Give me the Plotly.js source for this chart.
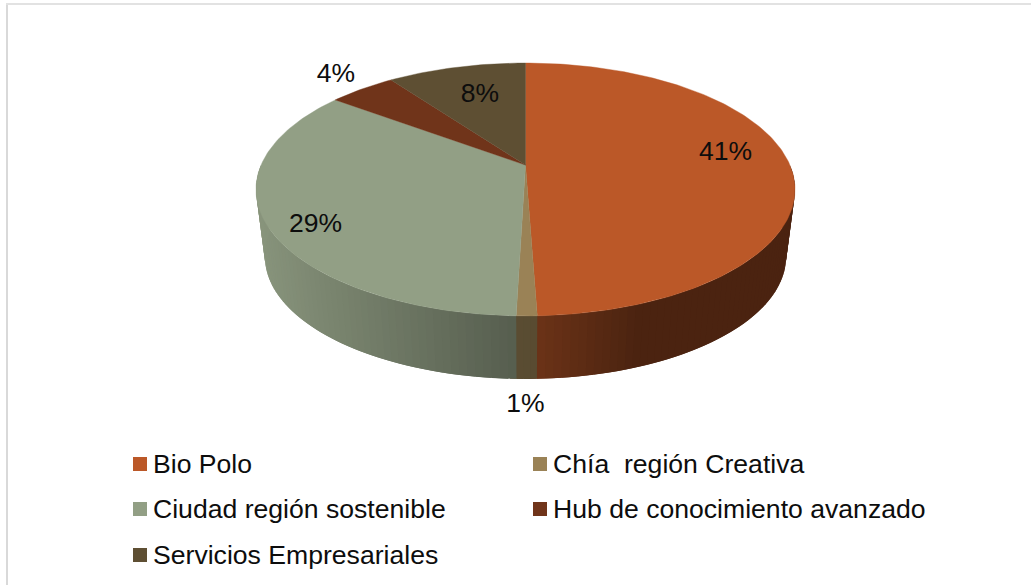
<!DOCTYPE html>
<html><head><meta charset="utf-8">
<script src="https://cdn.plot.ly/plotly-3.0.1.min.js"></script>
<style>html,body{margin:0;padding:0;background:#fff}#c{width:1031px;height:585px}</style>
</head><body><div id="c"></div>
<script>
// Data
const categories = ["Bio Polo", "Chía\u00a0 región Creativa", "Ciudad región sostenible", "Hub de conocimiento avanzado", "Servicios Empresariales"];
const values = [41, 0.85, 28.8, 4, 8.3];
const percentLabels = ["41%", "1%", "29%", "4%", "8%"];
// Style and layout
const colors = ["#bb5828", "#9a8256", "#929f85", "#70341a", "#5e4f33"];
const labelX = [725.5, 525.5, 315.5, 336, 480];
const labelY = [153, 405, 225, 75, 95];
const legendX = [140, 540, 140, 540, 140];
const legendY = [464, 464, 509, 509, 555];
const FONT = "Liberation Sans, Arial, sans-serif";
const cx = 525.5, cy = 165, A = 264.4, B = 121.7, k = 0.1936;
const wallScale = 0.967, wallCy = 233;
const shadeX = [256, 516, 540, 640, 800], shadeV = [0.93, 0.59, 0.57, 0.40, 0.40];

function rim(theta, s, yc) {
  const u = Math.sin(theta), v = Math.cos(theta), d = 1 + k * v;
  return [cx + s * A * u / d, yc - s * B * v / d];
}
function shade(hex, x) {
  let f = shadeV[shadeV.length - 1];
  for (let i = 0; i < shadeX.length - 1; i++) {
    if (x <= shadeX[i + 1]) {
      const t = Math.max(0, (x - shadeX[i]) / (shadeX[i + 1] - shadeX[i]));
      f = shadeV[i] + t * (shadeV[i + 1] - shadeV[i]);
      break;
    }
  }
  const n = parseInt(hex.slice(1), 16);
  return `rgb(${Math.round((n >> 16) * f)},${Math.round(((n >> 8) & 255) * f)},${Math.round((n & 255) * f)})`;
}

const total = values.reduce((a, b) => a + b, 0);
const traces = [];
const axisSpec = {hoverinfo: "skip", showlegend: false};
let acc = 0;
const slices = values.map((val, i) => {
  const s = {a: acc / total * 2 * Math.PI, b: (acc + val) / total * 2 * Math.PI, c: colors[i]};
  acc += val;
  return s;
});
// Side wall: strips between upper and lower rim, each overlapping the next so no seams show
slices.forEach(s => {
  const from = Math.max(s.a, Math.PI / 2), to = Math.min(s.b, 1.5 * Math.PI);
  if (to <= from) return;
  const n = Math.max(1, Math.ceil((to - from) / (1.5 * Math.PI / 180)));
  const step = (to - from) / n;
  for (let j = 0; j < n; j++) {
    const t0 = from + step * j, tMid = t0 + step, t1 = Math.min(tMid + step, 1.5 * Math.PI);
    const xs = [], ys = [], xb = [], yb = [];
    [t0, tMid, t1].forEach(t => {
      const p = rim(t, 1, cy), q = rim(t, wallScale, wallCy);
      xs.push(p[0]); ys.push(p[1]); xb.unshift(q[0]); yb.unshift(q[1]);
    });
    const col = shade(s.c, (xs[0] + xs[1]) / 2);
    traces.push({type: "scatter", mode: "lines", x: xs.concat(xb, xs[0]), y: ys.concat(yb, ys[0]),
      fill: "toself", fillcolor: col, line: {width: 0}, ...axisSpec});
  }
});
// Top surface
slices.forEach(s => {
  const xs = [cx], ys = [cy];
  const n = Math.max(4, Math.ceil((s.b - s.a) / (Math.PI / 180)));
  for (let j = 0; j <= n; j++) {
    const p = rim(s.a + (s.b - s.a) * j / n, 1, cy);
    xs.push(p[0]); ys.push(p[1]);
  }
  xs.push(cx); ys.push(cy);
  traces.push({type: "scatter", mode: "lines", x: xs, y: ys, fill: "toself", fillcolor: s.c, line: {color: s.c, width: 0.4}, ...axisSpec});
});
// Percent labels
traces.push({type: "scatter", mode: "text", x: labelX, y: labelY, text: percentLabels, textposition: "middle center",
  textfont: {family: FONT, size: 26.5, color: "#0d0d0d"}, ...axisSpec});
// Legend swatches
traces.push({type: "scatter", mode: "markers", x: legendX, y: legendY,
  marker: {symbol: "square", size: 14, color: colors, line: {width: 0}}, ...axisSpec});

const annotations = categories.map((c, i) => ({x: legendX[i] + 11, y: legendY[i], xref: "x", yref: "y", text: c, showarrow: false,
  xanchor: "left", yanchor: "middle", font: {family: FONT, size: 26.6, color: "#0d0d0d"}}));

const layout = {
  width: 1031, height: 585, margin: {l: 0, r: 0, t: 0, b: 0},
  paper_bgcolor: "#fff", plot_bgcolor: "#fff", showlegend: false,
  xaxis: {range: [0, 1031], visible: false, fixedrange: true},
  yaxis: {range: [585, 0], visible: false, fixedrange: true},
  annotations,
  shapes: [
    {type: "line", xref: "x", yref: "y", x0: 7, x1: 7, y0: 3, y1: 585, line: {color: "#d9d9d9", width: 2}},
    {type: "line", xref: "x", yref: "y", x0: 6, x1: 1031, y0: 4, y1: 4, line: {color: "#e2e2e2", width: 2}}
  ]
};
Plotly.newPlot("c", traces, layout, {staticPlot: true, displayModeBar: false});
</script></body></html>
